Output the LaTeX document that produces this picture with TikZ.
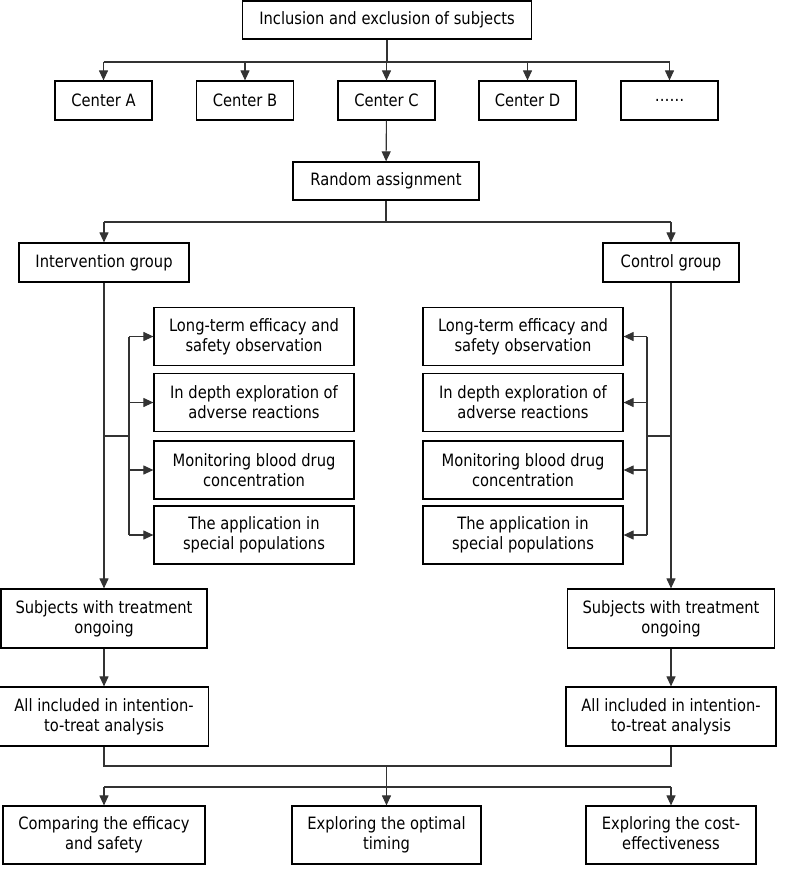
\documentclass[tikz,border=0pt]{standalone}
\usepackage{fontspec}
\setmainfont[FakeStretch=0.865]{DejaVu Sans}
\usetikzlibrary{arrows.meta}
\tikzset{
  box/.style={draw,line width=1.2pt,align=center,inner sep=2pt,font=\fontsize{17}{20}\selectfont},
  link/.style={line width=1.1pt,draw=black!80},
  >={Triangle[length=10pt,width=9pt]}
}
\begin{document}
\begin{tikzpicture}[x=1pt,y=-1pt]
\useasboundingbox (0,0) rectangle (784,880);
\coordinate (y1) at (0,62);
\coordinate (y2) at (0,222);
\coordinate (y3) at (0,766);
\coordinate (y4) at (0,787);
\coordinate (lb) at (129,436);
\coordinate (rb) at (647,436);
\node[box,minimum width=289,minimum height=38](top)at(387,20){Inclusion and exclusion of subjects};
\foreach \x/\n/\t in {103.5/cA/Center A,245/cB/Center B,386.5/cC/Center C,527.5/cD/Center D,669.5/cE/……}
  \node[box,minimum width=97,minimum height=39](\n)at(\x,100.5){\t};
\node[box,minimum width=186,minimum height=38](rand)at(386,181){Random assignment};
\node[box,minimum width=170,minimum height=39](ig)at(104,262.5){Intervention group};
\node[box,minimum width=136,minimum height=39](cg)at(671,262.5){Control group};
\node[box,minimum width=200,minimum height=58](d1)at(254,336.5){Long-term efficacy and\\safety observation};
\node[box,minimum width=200,minimum height=58](d2)at(254,402.5){In depth exploration of\\adverse reactions};
\node[box,minimum width=200,minimum height=58](d3)at(254,470){Monitoring blood drug\\concentration};
\node[box,minimum width=200,minimum height=58](d4)at(254,535){The application in\\special populations};
\node[box,minimum width=200,minimum height=58](e1)at(523,336.5){Long-term efficacy and\\safety observation};
\node[box,minimum width=200,minimum height=58](e2)at(523,402.5){In depth exploration of\\adverse reactions};
\node[box,minimum width=200,minimum height=58](e3)at(523,470){Monitoring blood drug\\concentration};
\node[box,minimum width=200,minimum height=58](e4)at(523,535){The application in\\special populations};
\node[box,minimum width=206,minimum height=59](sl)at(104,618.5){Subjects with treatment\\ongoing};
\node[box,minimum width=207,minimum height=59](sr)at(671,618.5){Subjects with treatment\\ongoing};
\node[box,minimum width=209,minimum height=59](al)at(104,716.5){All included in intention-\\to-treat analysis};
\node[box,minimum width=210,minimum height=59](ar)at(671,716.5){All included in intention-\\to-treat analysis};
\node[box,minimum width=202,minimum height=58](o1)at(104,835){Comparing the efficacy\\and safety};
\node[box,minimum width=189,minimum height=58](o2)at(386.5,835){Exploring the optimal\\timing};
\node[box,minimum width=170,minimum height=58](o3)at(671,835){Exploring the cost-\\effectiveness\vphantom{y}};
\draw[link](top)--(top.south|-y1);
\draw[link](cA.north|-y1)--(cE.north|-y1);
\foreach \n in {cA,cB,cC,cD,cE}
  \draw[link,->](\n.north|-y1)--(\n);
\draw[link,->](cC)--(rand);
\draw[link](rand)--(rand.south|-y2);
\draw[link](ig.north|-y2)--(cg.north|-y2);
\draw[link,->](ig.north|-y2)--(ig);
\draw[link,->](cg.north|-y2)--(cg);
\draw[link,->](ig)--(sl);
\draw[link,->](cg)--(sr);
\draw[link](ig.south|-lb)--(lb);
\draw[link](lb|-d1)--(lb|-d4);
\foreach \n in {d1,d2,d3,d4}
  \draw[link,->](lb|-\n)--(\n);
\draw[link](cg.south|-rb)--(rb);
\draw[link](rb|-e1)--(rb|-e4);
\foreach \n in {e1,e2,e3,e4}
  \draw[link,->](rb|-\n)--(\n);
\draw[link,->](sl)--(al);
\draw[link,->](sr)--(ar);
\draw[link](al)--(al.south|-y3)--(ar.south|-y3)--(ar);
\draw[link,->](o2.north|-y3)--(o2);
\draw[link](o1.north|-y4)--(o3.north|-y4);
\draw[link,->](o1.north|-y4)--(o1);
\draw[link,->](o3.north|-y4)--(o3);
\end{tikzpicture}
\end{document}
